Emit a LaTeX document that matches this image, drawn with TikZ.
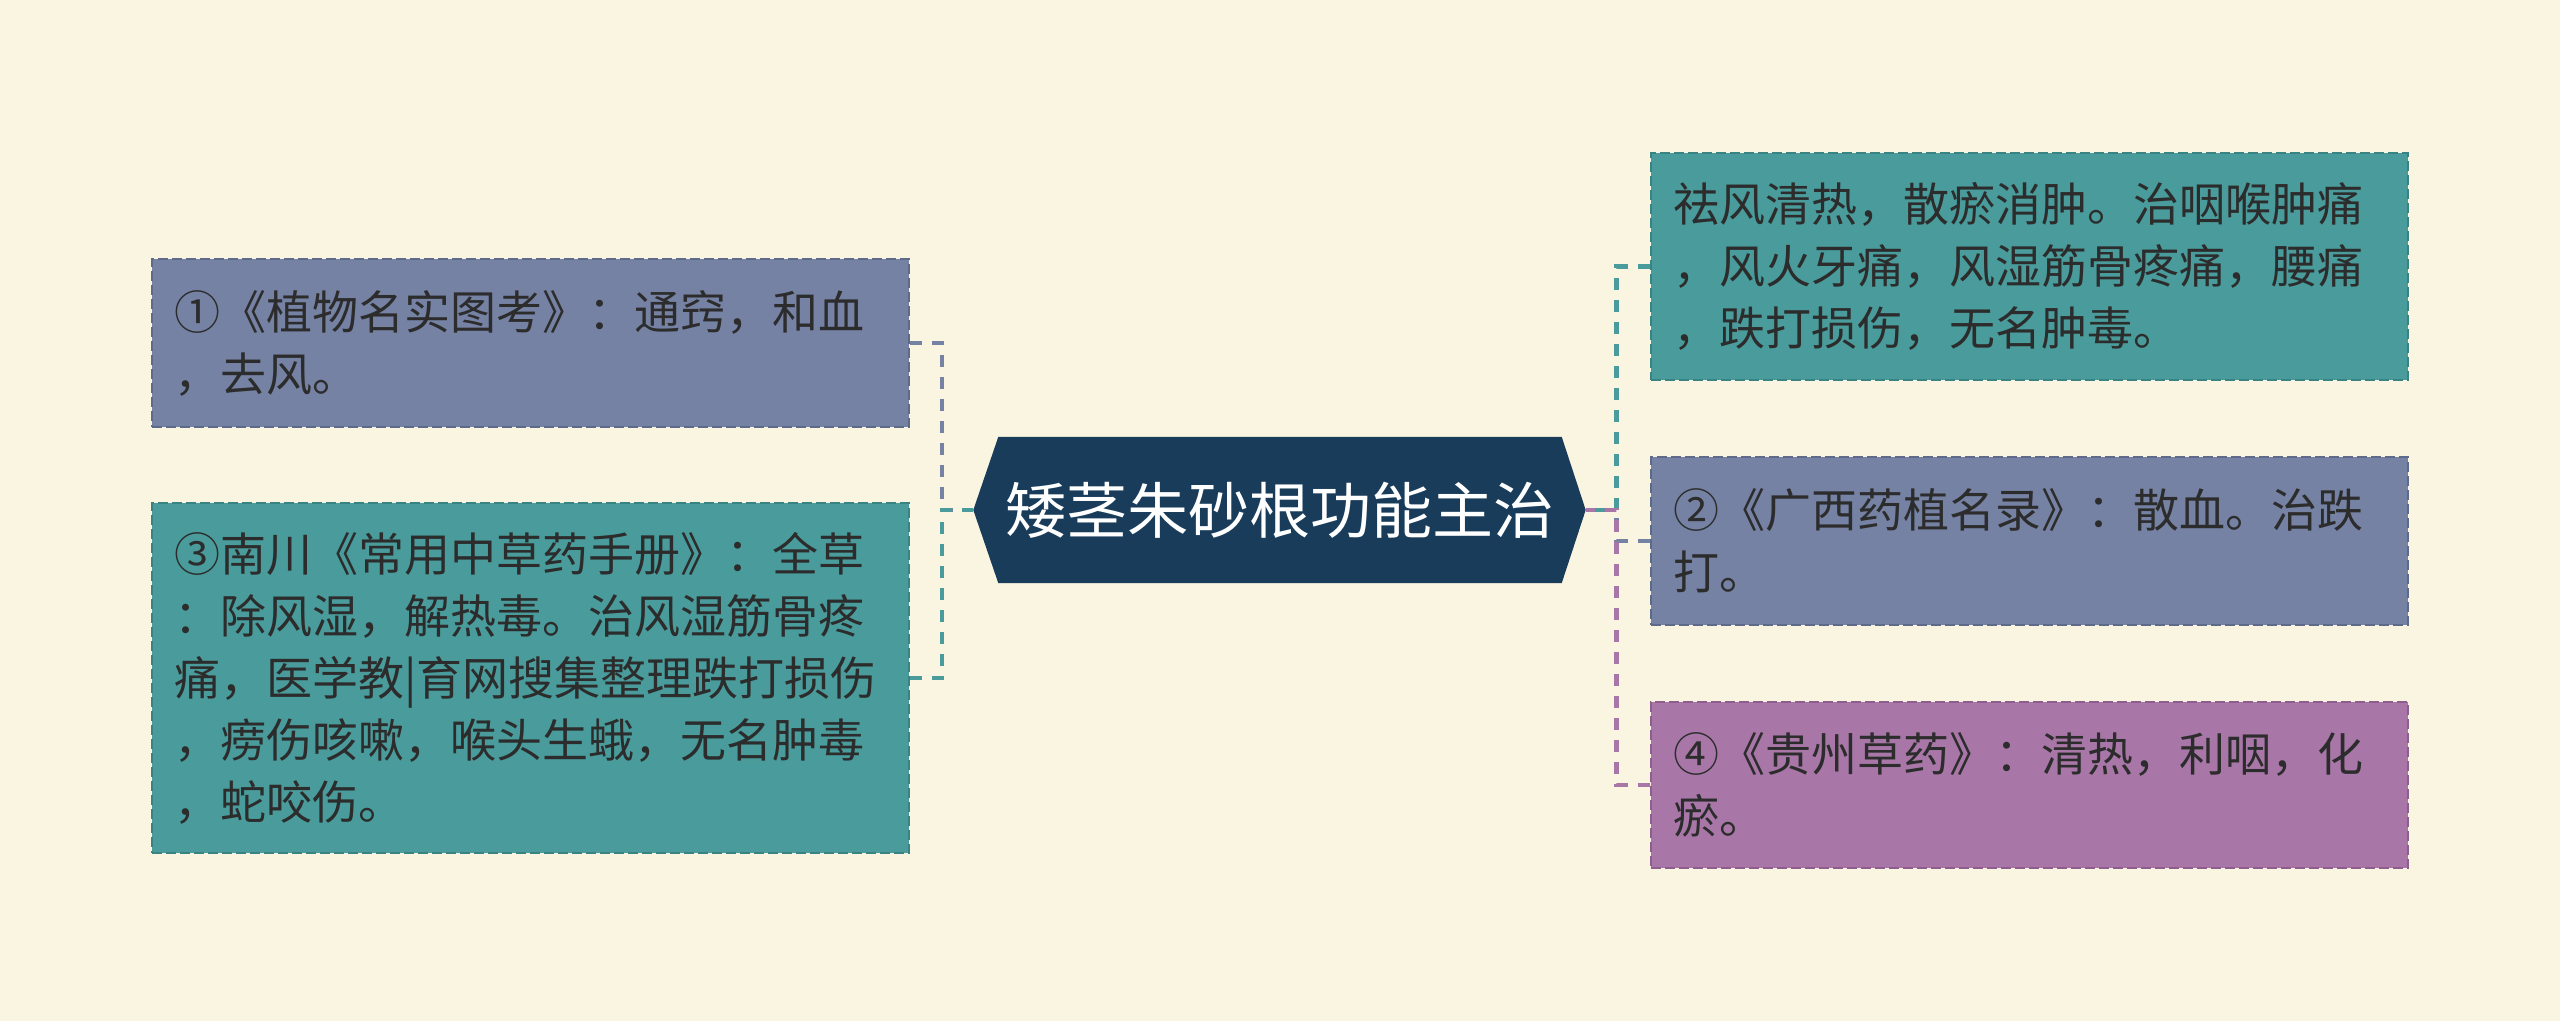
\documentclass[tikz,border=0pt]{standalone}
\usepackage{fontspec}
\setmainfont{Noto Sans CJK SC}
\usetikzlibrary{backgrounds}
\definecolor{bgc}{HTML}{FAF5E1}
\definecolor{navy}{HTML}{183C5A}
\definecolor{tealf}{HTML}{4A9B9B}
\definecolor{teald}{HTML}{3A8383}
\definecolor{slatef}{HTML}{7582A4}
\definecolor{slated}{HTML}{5E6A8A}
\definecolor{purpf}{HTML}{A877A8}
\definecolor{purpd}{HTML}{8E5E8E}
\definecolor{txt}{HTML}{2C2C2C}
\tikzset{
  leaf/.style={rectangle, draw, line width=2pt, dash pattern=on 10pt off 4pt,
    minimum width=757pt, text width=712pt, align=left, inner sep=0pt,
    text=txt, font=\fontsize{46}{62}\selectfont},
  tealbox/.style={leaf, fill=tealf, draw=teald},
  slatebox/.style={leaf, fill=slatef, draw=slated},
  purpbox/.style={leaf, fill=purpf, draw=purpd},
  conn/.style={line width=4.5pt, dash pattern=on 12pt off 10pt},
  title/.style={rectangle, minimum width=563pt, minimum height=146pt, inner sep=0pt,
    text=white, font=\fontsize{61}{70}\selectfont}
}
\begin{document}
\begin{tikzpicture}[x=1pt,y=-1pt]
\begin{scope}[on background layer]
\fill[bgc] (0,0) rectangle (2560,1021);
\end{scope}
\useasboundingbox (0,0) rectangle (2560,1021);

\node[title] (c) at (1280,510) {矮茎朱砂根功能主治};
\coordinate (cl) at ([xshift=-25pt]c.west);
\coordinate (cr) at ([xshift=24pt]c.east);
\begin{scope}[on background layer]
\fill[navy] (cl) -- (c.north west) -- (c.north east) -- (cr) -- (c.south east) -- (c.south west) -- cycle;
\end{scope}

\node[slatebox, minimum height=168pt] (b1) at (530.5,343)
  {①《植物名实图考》：通窍，和血\\，去风。};
\node[tealbox, minimum height=350pt] (b3) at (530.5,678)
  {③南川《常用中草药手册》：全草\\：除风湿，解热毒。治风湿筋骨疼\\痛，医学教|育网搜集整理跌打损伤\\，痨伤咳嗽，喉头生蛾，无名肿毒\\，蛇咬伤。};
\node[tealbox, minimum height=227pt] (bA) at (2029,266.5)
  {祛风清热，散瘀消肿。治咽喉肿痛\\，风火牙痛，风湿筋骨疼痛，腰痛\\，跌打损伤，无名肿毒。};
\node[slatebox, minimum height=168pt] (bB) at (2029,541)
  {②《广西药植名录》：散血。治跌\\打。};
\node[purpbox, minimum height=166pt] (bC) at (2029,785)
  {④《贵州草药》：清热，利咽，化\\瘀。};

\draw[conn, slatef] (b1.east) -- ++(32,0) |- (cl);
\draw[conn, tealf] (b3.east) -- ++(32,0) |- (cl);
\draw[conn, tealf] (bA.west) -- ++(-33,0) |- (cr);
\draw[conn, slatef] (bB.west) -- ++(-33,0) |- (cr);
\draw[conn, purpf] (bC.west) -- ++(-33,0) |- (cr);
\end{tikzpicture}
\end{document}
